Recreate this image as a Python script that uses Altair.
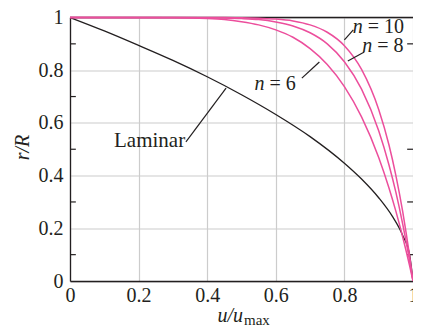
import altair as alt
import pandas as pd

# ---- data ----
u_lam = [0.0, 0.1, 0.2, 0.3, 0.4, 0.5, 0.6, 0.7, 0.8, 0.85, 0.9, 0.94, 0.97, 0.99, 1.0]
r_lam = [1.0, 0.949, 0.894, 0.837, 0.775, 0.707, 0.632, 0.548, 0.447, 0.387, 0.316, 0.245, 0.173, 0.1, 0.0]

u_turb = [0.0, 0.3, 0.4, 0.45, 0.5, 0.55, 0.6, 0.65, 0.7, 0.75, 0.8, 0.85, 0.9, 0.93, 0.95, 0.97, 0.98, 0.99, 1.0]
r_n6 = [1.0, 0.999, 0.996, 0.992, 0.984, 0.972, 0.953, 0.925, 0.882, 0.822, 0.738, 0.623, 0.469, 0.353, 0.265, 0.167, 0.114, 0.059, 0.0]
r_n8 = [1.0, 1.0, 0.999, 0.998, 0.996, 0.992, 0.983, 0.968, 0.942, 0.900, 0.832, 0.728, 0.570, 0.440, 0.337, 0.216, 0.149, 0.077, 0.0]
r_n10 = [1.0, 1.0, 1.0, 1.0, 0.999, 0.997, 0.994, 0.987, 0.972, 0.944, 0.893, 0.803, 0.651, 0.516, 0.401, 0.263, 0.183, 0.096, 0.0]

x_ticks = [0, 0.2, 0.4, 0.6, 0.8, 1]
y_ticks = [0, 0.2, 0.4, 0.6, 0.8, 1]
left_minor = [0.1, 0.3, 0.5, 0.7, 0.9]
right_minor = [0.1, 0.3, 0.5, 0.9]

# curve labels
lab_n = ["n", "n", "n"]
lab_rest = ["= 6", "= 8", "= 10"]
lab_x = [0.538, 0.852, 0.824]
lab_y = [0.725, 0.868, 0.940]
lam_text = ["Laminar"]
lam_x = [0.232]
lam_y = [0.510]

# leader lines
lead_x1 = [0.338, 0.676, 0.810, 0.800]
lead_y1 = [0.528, 0.770, 0.835, 0.915]
lead_x2 = [0.455, 0.727, 0.858, 0.826]
lead_y2 = [0.732, 0.831, 0.869, 0.953]

# ---- styling ----
INK = "#231f20"
PINK = "#ec4e9c"
FONT = "Liberation Serif, Times New Roman, serif"
W, H = 343, 263.5
TL = 0.017  # minor tick length in data units

xs = alt.Scale(domain=[0, 1], nice=False, zero=False)
ys = alt.Scale(domain=[0, 1], nice=False, zero=False)
xax = alt.Axis(values=x_ticks, format="~g", title=None, labelPadding=4)
yax = alt.Axis(values=y_ticks, format="~g", title=None, labelPadding=7)


def X(f):
    return alt.X(f, scale=xs, axis=xax)


def Y(f):
    return alt.Y(f, scale=ys, axis=yax)


lam_df = pd.DataFrame({"u": u_lam, "r": r_lam})
turb_df = pd.DataFrame({
    "u": u_turb * 3,
    "r": r_n6 + r_n8 + r_n10,
    "n": ["6"] * len(u_turb) + ["8"] * len(u_turb) + ["10"] * len(u_turb),
})
lead_df = pd.DataFrame({"x": lead_x1, "y": lead_y1, "x2": lead_x2, "y2": lead_y2})
lab_df = pd.DataFrame({"x": lab_x, "y": lab_y, "n": lab_n, "rest": lab_rest})
lam_lab_df = pd.DataFrame({"x": lam_x, "y": lam_y, "t": lam_text})
minor_df = pd.DataFrame({
    "y": left_minor + right_minor,
    "x": [0.0] * len(left_minor) + [1 - TL] * len(right_minor),
    "x2": [TL] * len(left_minor) + [1.0] * len(right_minor),
})
border_df = pd.DataFrame({"x": [0.0], "x2": [1.0], "y": [1.0]})

laminar = alt.Chart(lam_df).mark_line(color=INK, strokeWidth=1.3, interpolate="monotone").encode(
    x=X("u:Q"), y=Y("r:Q")
)

border = alt.Chart(border_df).mark_rule(color=INK, strokeWidth=1.3).encode(
    x=X("x:Q"), x2="x2:Q", y=Y("y:Q")
)

minor = alt.Chart(minor_df).mark_rule(color=INK, strokeWidth=1.2).encode(
    x=X("x:Q"), x2="x2:Q", y=Y("y:Q")
)

turb = alt.Chart(turb_df).mark_line(color=PINK, strokeWidth=1.5, interpolate="monotone").encode(
    x=X("u:Q"), y=Y("r:Q"), detail="n:N"
)

leads = alt.Chart(lead_df).mark_rule(color=INK, strokeWidth=1.2).encode(
    x=X("x:Q"), y=Y("y:Q"), x2="x2:Q", y2="y2:Q"
)

n_txt = alt.Chart(lab_df).mark_text(
    font=FONT, fontSize=20, fontStyle="italic", color=INK, align="left", baseline="alphabetic"
).encode(x=X("x:Q"), y=Y("y:Q"), text="n:N")

rest_txt = alt.Chart(lab_df).mark_text(
    font=FONT, fontSize=20, color=INK, align="left", baseline="alphabetic", dx=15
).encode(x=X("x:Q"), y=Y("y:Q"), text="rest:N")

lam_txt = alt.Chart(lam_lab_df).mark_text(
    font=FONT, fontSize=21, color=INK, align="center", baseline="alphabetic"
).encode(x=X("x:Q"), y=Y("y:Q"), text="t:N")

title_df = pd.DataFrame({"a": [0]})
ytitle = alt.Chart(title_df).mark_text(
    text="r/R", font=FONT, fontSize=20, fontStyle="italic", color=INK,
    angle=270, align="center", baseline="alphabetic"
).encode(x=alt.value(-41.5), y=alt.value(130))
xtitle = alt.Chart(title_df).mark_text(
    text="u/u", font=FONT, fontSize=20, fontStyle="italic", color=INK,
    align="right", baseline="alphabetic"
).encode(x=alt.value(173), y=alt.value(304))
xsub = alt.Chart(title_df).mark_text(
    text="max", font=FONT, fontSize=15, color=INK, align="left", baseline="alphabetic"
).encode(x=alt.value(174), y=alt.value(307.5))

chart = alt.layer(
    laminar, border, minor, turb, leads, n_txt, rest_txt, lam_txt, ytitle, xtitle, xsub
).properties(
    width=W, height=H,
    autosize=alt.AutoSizeParams(type="none"),
    padding={"left": 62, "top": 9.5, "right": 0, "bottom": 45},
).configure_view(stroke=None).configure_axis(
    labelFont=FONT, labelFontSize=20, labelColor=INK,
    grid=True, gridColor="#cccccc", gridWidth=1.2,
    domainColor=INK, domainWidth=1.3, ticks=False,
    labelFlush=False, labelOverlap=False,
)

chart.save("out.html", embed_options={"renderer": "svg", "actions": False})
